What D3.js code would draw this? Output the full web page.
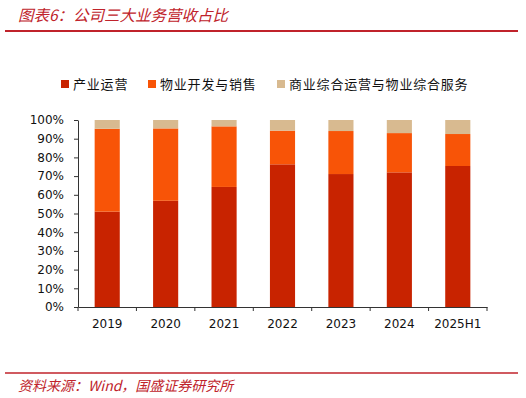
<!DOCTYPE html>
<html>
<head>
<meta charset="utf-8">
<script src="https://cdn.jsdelivr.net/npm/d3@7"></script>
<style>
body { margin: 0; background: #fff; }
svg { display: block; }
</style>
</head>
<body>
<script>
// data (percent of revenue)
var years = ["2019", "2020", "2021", "2022", "2023", "2024", "2025H1"];
var seriesNames = ["产业运营", "物业开发与销售", "商业综合运营与物业综合服务"];
var industry = [51.0, 56.8, 64.2, 76.3, 71.1, 72.0, 75.4];
var property = [44.3, 38.7, 32.4, 18.0, 23.0, 21.0, 17.1];
var commercial = [4.7, 4.5, 3.4, 5.7, 5.9, 7.0, 7.5];
var yTicks = [0, 10, 20, 30, 40, 50, 60, 70, 80, 90, 100];
var colors = ["#C82300", "#F85407", "#D8BA90"];

var W = 526, H = 398;
var svg = d3.select("body").append("svg")
  .attr("width", W)
  .attr("height", H);

var red = "#C0232B";
var cjk = "'Noto Sans CJK SC', sans-serif";

// title
svg.append("text")
  .attr("x", 18)
  .attr("y", 21)
  .style("font-family", cjk)
  .style("font-style", "italic")
  .style("font-size", "15.5px")
  .style("fill", red)
  .text("图表6：公司三大业务营收占比");

svg.append("line")
  .attr("x1", 5).attr("x2", 518)
  .attr("y1", 31).attr("y2", 31)
  .attr("stroke", red)
  .attr("stroke-width", 2.2);

// table for stacking
var table = years.map(function(y, i) {
  return { year: y, a: industry[i], b: property[i], c: commercial[i] };
});
var stacked = d3.stack().keys(["a", "b", "c"])(table);

var plotL = 78, plotR = 487, plotT = 120, plotB = 307;

var x = d3.scaleBand()
  .domain(years)
  .range([plotL, plotR])
  .paddingInner(0.57)
  .paddingOuter(0.285);

var y = d3.scaleLinear()
  .domain([0, 100])
  .range([plotB, plotT]);

svg.append("g")
  .selectAll("g")
  .data(stacked)
  .join("g")
  .attr("fill", function(d, i) { return colors[i]; })
  .selectAll("rect")
  .data(function(d) { return d; })
  .join("rect")
  .attr("x", function(d) { return x(d.data.year); })
  .attr("y", function(d) { return y(d[1]); })
  .attr("width", x.bandwidth())
  .attr("height", function(d) { return y(d[0]) - y(d[1]); });

// y axis
var yAxis = svg.append("g")
  .attr("transform", "translate(" + plotL + ",0)")
  .call(d3.axisLeft(y)
    .tickValues(yTicks)
    .tickSize(4)
    .tickSizeOuter(0)
    .tickPadding(10)
    .tickFormat(function(d) { return d + "%"; }));

// x axis
var xAxis = svg.append("g")
  .attr("transform", "translate(0," + plotB + ")")
  .call(d3.axisBottom(x).tickSize(0).tickPadding(12));

// x tick marks at band boundaries
var bounds = years.map(function(d) { return x(d) - x.step() * x.paddingInner() / 2; });
bounds.push(plotR);
bounds[0] = plotL;
svg.append("g")
  .selectAll("line")
  .data(bounds)
  .join("line")
  .attr("x1", function(d) { return d; })
  .attr("x2", function(d) { return d; })
  .attr("y1", plotB)
  .attr("y2", plotB + 4)
  .attr("stroke", "#333");

[yAxis, xAxis].forEach(function(g) {
  g.selectAll(".domain").attr("stroke", "#333");
  g.selectAll(".tick line").attr("stroke", "#333");
  g.selectAll("text")
    .style("font-family", "'DejaVu Sans', sans-serif")
    .style("font-size", "12px")
    .style("fill", "#111");
});

// legend
var legendX = [61, 148, 277];
var lg = svg.append("g")
  .selectAll("g")
  .data(seriesNames)
  .join("g")
  .attr("transform", function(d, i) { return "translate(" + legendX[i] + ",80)"; });

lg.append("rect")
  .attr("width", 8)
  .attr("height", 8)
  .attr("fill", function(d, i) { return colors[i]; });

lg.append("text")
  .attr("x", 12)
  .attr("y", 8.5)
  .style("font-family", cjk)
  .style("font-size", "13px")
  .style("letter-spacing", "0.8px")
  .style("fill", "#111")
  .text(function(d) { return d; });

// source
svg.append("line")
  .attr("x1", 5).attr("x2", 518)
  .attr("y1", 373).attr("y2", 373)
  .attr("stroke", red)
  .attr("stroke-width", 1.6);

svg.append("text")
  .attr("x", 18)
  .attr("y", 391)
  .style("font-family", cjk)
  .style("font-style", "italic")
  .style("font-size", "14px")
  .style("fill", red)
  .text("资料来源：Wind，国盛证券研究所");
</script>
</body>
</html>
